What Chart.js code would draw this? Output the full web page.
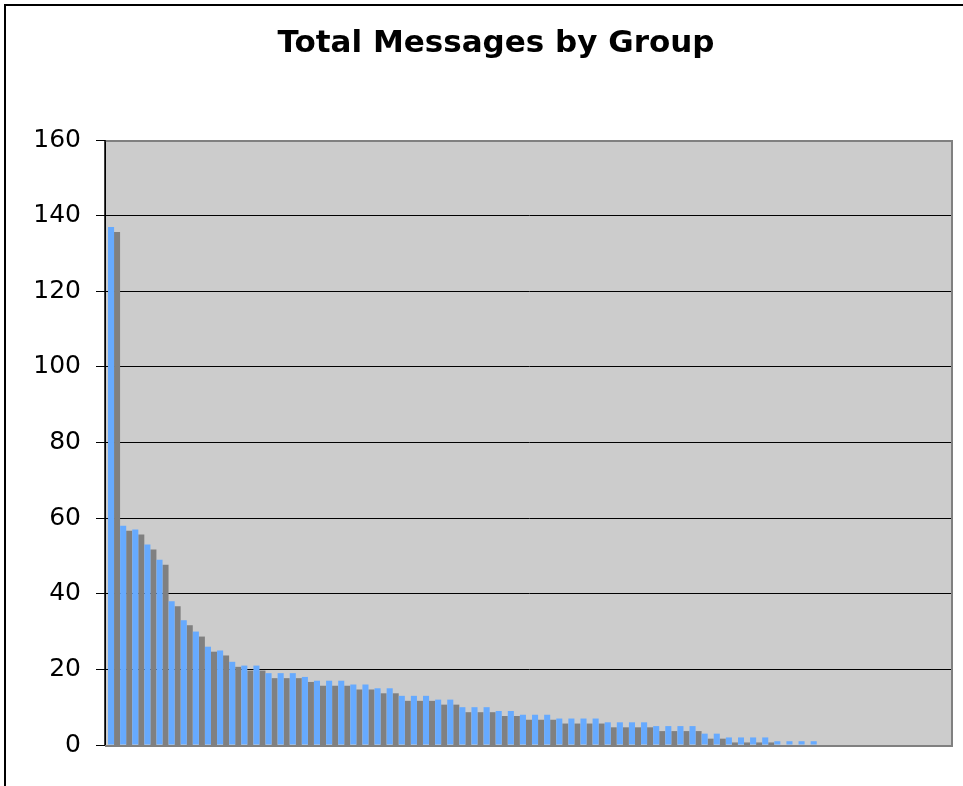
<!DOCTYPE html>
<html>
<head>
<meta charset="utf-8">
<title>Total Messages by Group</title>
<script src="https://cdn.jsdelivr.net/npm/chart.js@4.4.1/dist/chart.umd.min.js"></script>
<style>
  body { margin: 0; background: #fff; overflow: hidden; }
  .frame {
    position: absolute; left: 4px; top: 4px;
    width: 1000px; height: 1000px;
    border: 2px solid #000;
  }
  .chart-container { position: absolute; left: 0; top: 0; width: 963px; height: 786px; }
</style>
</head>
<body>
<div class="frame"></div>
<div class="chart-container">
  <canvas id="chart" width="963" height="786"></canvas>
</div>
<script>
// message counts per group, sorted descending
const messageCounts = [
  137, 58, 57, 53, 49, 38, 33, 30, 26, 25,
  22, 21, 21, 19, 19, 19, 18, 17, 17, 17,
  16, 16, 15, 15, 13, 13, 13, 12, 12, 10,
  10, 10, 9, 9, 8, 8, 8, 7, 7, 7,
  7, 6, 6, 6, 6, 5, 5, 5, 5, 3,
  3, 2, 2, 2, 2, 1, 1, 1, 1, 0,
  0, 0, 0, 0, 0, 0, 0, 0, 0, 0
];
const groups = messageCounts.map((_, i) => 'Group ' + (i + 1));
const yTicks = [0, 20, 40, 60, 80, 100, 120, 140, 160];
const chartTitle = 'Total Messages by Group';

const FONT = 'DejaVu Sans, Verdana, sans-serif';

// grey plot area + frame, like the old spreadsheet chart
const plotFrame = {
  id: 'plotFrame',
  beforeDraw(chart) {
    const { ctx, chartArea: a } = chart;
    ctx.save();
    ctx.fillStyle = '#cccccc';
    ctx.fillRect(a.left, a.top, a.right - a.left, a.bottom - a.top);
    ctx.restore();
  },
  afterDraw(chart) {
    const { ctx, chartArea: a } = chart;
    ctx.save();
    ctx.strokeStyle = '#808080';
    ctx.lineWidth = 2;
    ctx.beginPath();
    ctx.moveTo(a.left, a.top + 1);
    ctx.lineTo(a.right - 1, a.top + 1);
    ctx.lineTo(a.right - 1, a.bottom + 1);
    ctx.lineTo(a.left, a.bottom + 1);
    ctx.stroke();
    ctx.strokeStyle = '#000';
    ctx.lineWidth = 1.5;
    ctx.beginPath();
    ctx.moveTo(a.left, a.top);
    ctx.lineTo(a.left, a.bottom);
    ctx.stroke();
    // title is centred on the outer chart box, not the canvas
    ctx.fillStyle = '#000';
    ctx.font = 'bold 31px ' + FONT;
    ctx.textAlign = 'center';
    ctx.textBaseline = 'alphabetic';
    ctx.fillText(chartTitle, 496, 52);
    ctx.restore();
  }
};

// hard drop shadow under the bars
const barShadow = {
  id: 'barShadow',
  beforeDatasetsDraw(chart) {
    const ctx = chart.ctx;
    ctx.save();
    ctx.shadowColor = '#808080';
    ctx.shadowOffsetX = 6;
    ctx.shadowOffsetY = 5;
    ctx.shadowBlur = 0;
  },
  afterDatasetsDraw(chart) {
    chart.ctx.restore();
  }
};

new Chart(document.getElementById('chart'), {
  type: 'bar',
  data: {
    labels: groups,
    datasets: [{
      label: 'Messages',
      data: messageCounts,
      backgroundColor: '#66aaff',
      borderWidth: 0,
      categoryPercentage: 1,
      barPercentage: 0.5,
    }]
  },
  options: {
    responsive: false,
    animation: false,
    layout: { padding: { left: 0, right: 10, top: 140, bottom: 41 } },
    plugins: {
      legend: { display: false },
      tooltip: { enabled: false },
      title: { display: false },
    },
    scales: {
      x: { display: false },
      y: {
        min: 0,
        max: 160,
        afterFit(scale) { scale.width = 105; },
        afterBuildTicks(scale) { scale.ticks = yTicks.map(v => ({ value: v })); },
        ticks: {
          color: '#000',
          padding: 15,
          font: { family: FONT, size: 25 },
        },
        grid: {
          color: '#000',
          lineWidth: 1,
          tickLength: 9,
          tickColor: '#000',
        },
        border: { display: true, color: '#000', width: 1 },
      },
    },
  },
  plugins: [plotFrame, barShadow],
});
</script>
</body>
</html>
